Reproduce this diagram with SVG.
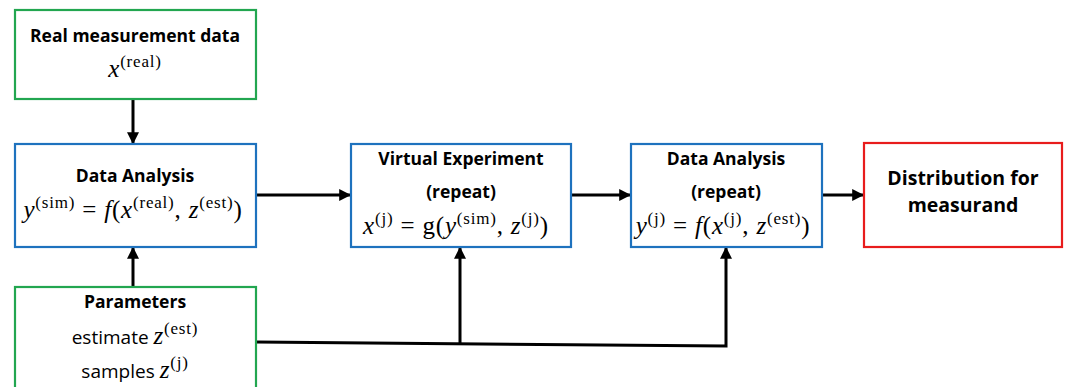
<svg xmlns="http://www.w3.org/2000/svg" width="1065" height="387" viewBox="0 0 1065 387">
<defs>
<marker id="ah" viewBox="0 0 10 10" refX="9" refY="5" markerWidth="4" markerHeight="4" orient="auto" markerUnits="strokeWidth">
<path d="M0,0 L10,5 L0,10 z" fill="#000"/>
</marker>
<style>
.box{fill:#fff;stroke-width:2.2}
.g{stroke:#22a650}
.b{stroke:#1e72be}
.r{stroke:#e81c1c}
.t{font-family:"Open Sans","Liberation Sans",sans-serif;font-weight:bold;font-size:17.5px;text-anchor:middle;fill:#000}
.n{font-family:"Open Sans","Liberation Sans",sans-serif;font-size:19px;text-anchor:middle;fill:#000}
.big{font-size:19.5px}
.m{font-family:"Liberation Serif","DejaVu Serif",serif;font-size:25px;text-anchor:middle;fill:#000;letter-spacing:0.8px}
.i{font-style:italic}
.s{font-size:17px}
.c{fill:none;stroke:#000;stroke-width:3}
</style>
</defs>
<g id="connectors">
<line class="c" x1="133" y1="99" x2="133" y2="143" marker-end="url(#ah)"/>
<line class="c" x1="133" y1="287" x2="133" y2="248" marker-end="url(#ah)"/>
<line class="c" x1="256" y1="195" x2="350" y2="195" marker-end="url(#ah)"/>
<line class="c" x1="571" y1="195" x2="630" y2="195" marker-end="url(#ah)"/>
<line class="c" x1="822" y1="195" x2="863" y2="195" marker-end="url(#ah)"/>
<polyline class="c" points="256,342 726,346 726,248" marker-end="url(#ah)"/>
<line class="c" x1="460" y1="343.5" x2="460" y2="248" marker-end="url(#ah)"/>
</g>
<g id="real">
<rect class="box g" x="15" y="10" width="241" height="89"/>
<text class="t" x="135" y="42">Real measurement data</text>
<text class="m" x="135" y="77"><tspan class="i">x</tspan><tspan class="s" dy="-10">(real)</tspan></text>
</g>
<g id="analysis">
<rect class="box b" x="15" y="144" width="241" height="103"/>
<text class="t" x="135" y="182">Data Analysis</text>
<text class="m" x="133" y="218"><tspan class="i">y</tspan><tspan class="s" dy="-10">(sim)</tspan><tspan dy="10"> = </tspan><tspan class="i">f</tspan>(<tspan class="i">x</tspan><tspan class="s" dy="-10">(real)</tspan><tspan dy="10">, </tspan><tspan class="i">z</tspan><tspan class="s" dy="-10">(est)</tspan><tspan dy="10">)</tspan></text>
</g>
<g id="params">
<rect class="box g" x="15" y="287" width="241" height="110"/>
<text class="t" x="135" y="308">Parameters</text>
<text class="n" x="135" y="344">estimate <tspan class="m i">z</tspan><tspan class="m s" dy="-10">(est)</tspan></text>
<text class="n" x="135" y="378">samples <tspan class="m i">z</tspan><tspan class="m s" dy="-10">(j)</tspan></text>
</g>
<g id="virtual">
<rect class="box b" x="351" y="144" width="220" height="103"/>
<text class="t" x="461" y="165">Virtual Experiment</text>
<text class="t" x="461" y="198">(repeat)</text>
<text class="m" x="456" y="234"><tspan class="i">x</tspan><tspan class="s" dy="-10">(j)</tspan><tspan dy="10"> = g(</tspan><tspan class="i">y</tspan><tspan class="s" dy="-10">(sim)</tspan><tspan dy="10">, </tspan><tspan class="i">z</tspan><tspan class="s" dy="-10">(j)</tspan><tspan dy="10">)</tspan></text>
</g>
<g id="analysis2">
<rect class="box b" x="631" y="144" width="191" height="103"/>
<text class="t" x="726" y="165">Data Analysis</text>
<text class="t" x="726" y="198">(repeat)</text>
<text class="m" x="723" y="234"><tspan class="i">y</tspan><tspan class="s" dy="-10">(j)</tspan><tspan dy="10"> = </tspan><tspan class="i">f</tspan>(<tspan class="i">x</tspan><tspan class="s" dy="-10">(j)</tspan><tspan dy="10">, </tspan><tspan class="i">z</tspan><tspan class="s" dy="-10">(est)</tspan><tspan dy="10">)</tspan></text>
</g>
<g id="dist">
<rect class="box r" x="864" y="143" width="198" height="104"/>
<text class="t big" x="963" y="185">Distribution for</text>
<text class="t big" x="963" y="212">measurand</text>
</g>
</svg>
